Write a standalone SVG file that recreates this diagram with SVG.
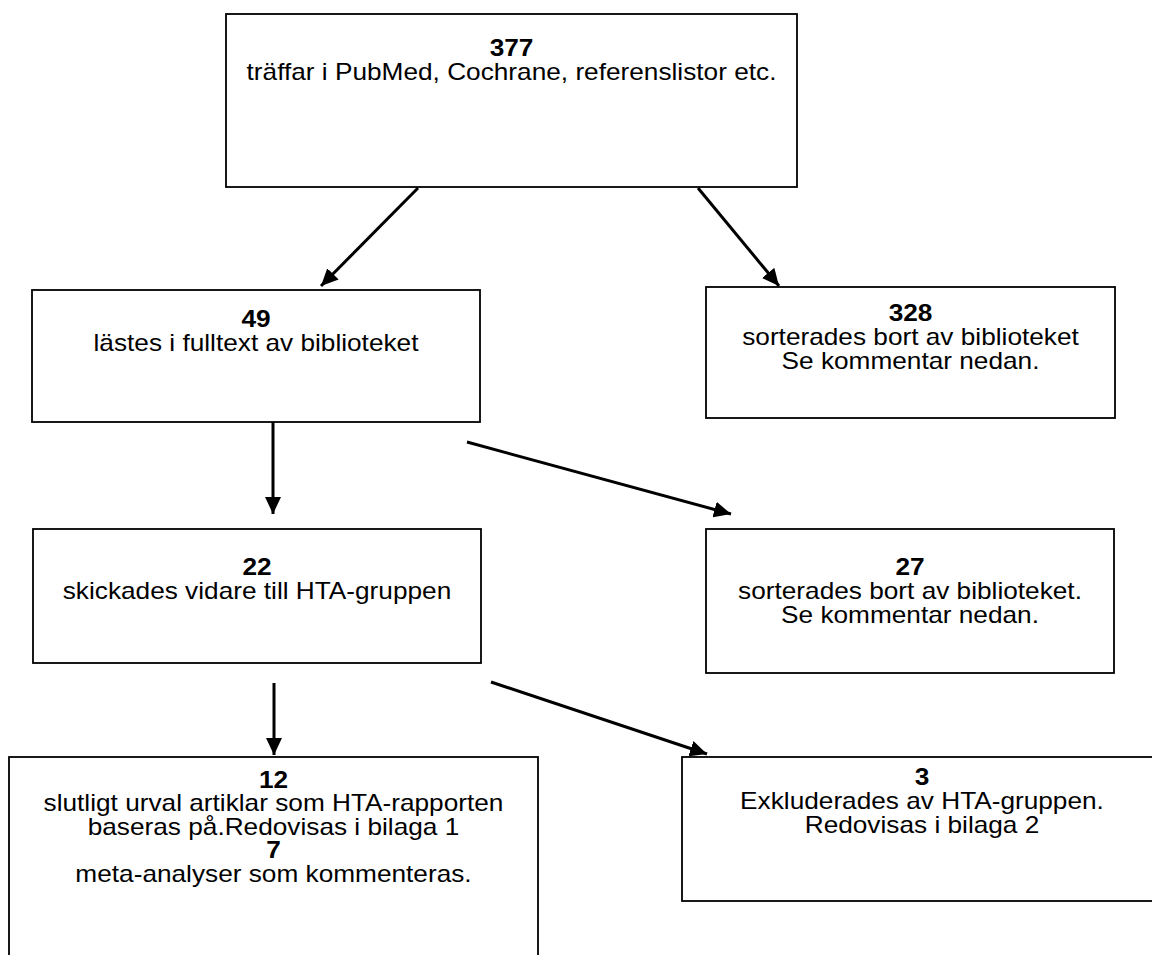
<svg xmlns="http://www.w3.org/2000/svg" width="1152" height="955" viewBox="0 0 1152 955">
<style>
.box{fill:#fff;stroke:#000;stroke-width:1.8}
text{font-family:"Liberation Sans",Arial,sans-serif;font-size:23px;fill:#000;text-anchor:middle}
.b{font-weight:bold}
.conn{stroke:#000;stroke-width:3;fill:none;marker-end:url(#ah)}
</style>
<defs>
<marker id="ah" markerUnits="userSpaceOnUse" markerWidth="17" markerHeight="16" refX="17" refY="8" orient="auto">
<path d="M0,0 L17,8 L0,16 z" fill="#000"/>
</marker>
</defs>
<rect width="1152" height="955" fill="#fff"/>
<g id="n377">
<rect class="box" x="226" y="14" width="571" height="173"/>
<g transform="translate(511.5 0) scale(1.14 1)">
<text class="b" x="0" y="56">377</text>
<text x="0" y="80">träffar i PubMed, Cochrane, referenslistor etc.</text>
</g>
</g>
<g id="n49">
<rect class="box" x="32" y="290" width="448" height="132"/>
<g transform="translate(256 0) scale(1.14 1)">
<text class="b" x="0" y="327">49</text>
<text x="0" y="351">lästes i fulltext av biblioteket</text>
</g>
</g>
<g id="n328">
<rect class="box" x="706" y="287" width="409" height="131"/>
<g transform="translate(910.5 0) scale(1.14 1)">
<text class="b" x="0" y="321">328</text>
<text x="0" y="345">sorterades bort av biblioteket</text>
<text x="0" y="369">Se kommentar nedan.</text>
</g>
</g>
<g id="n22">
<rect class="box" x="33" y="529" width="448" height="134"/>
<g transform="translate(257 0) scale(1.14 1)">
<text class="b" x="0" y="575">22</text>
<text x="0" y="599">skickades vidare till HTA-gruppen</text>
</g>
</g>
<g id="n27">
<rect class="box" x="706" y="529" width="408" height="144"/>
<g transform="translate(910 0) scale(1.14 1)">
<text class="b" x="0" y="575">27</text>
<text x="0" y="599">sorterades bort av biblioteket.</text>
<text x="0" y="623">Se kommentar nedan.</text>
</g>
</g>
<g id="n12">
<rect class="box" x="9" y="757" width="529" height="220"/>
<g transform="translate(273.5 0) scale(1.14 1)">
<text class="b" x="0" y="788">12</text>
<text x="0" y="811">slutligt urval artiklar som HTA-rapporten</text>
<text x="0" y="835">baseras på.Redovisas i bilaga 1</text>
<text class="b" x="0" y="858">7</text>
<text x="0" y="882">meta-analyser som kommenteras.</text>
</g>
</g>
<g id="n3">
<rect class="box" x="682" y="757" width="480" height="144"/>
<g transform="translate(922 0) scale(1.14 1)">
<text class="b" x="0" y="785">3</text>
<text x="0" y="809">Exkluderades av HTA-gruppen.</text>
<text x="0" y="833">Redovisas i bilaga 2</text>
</g>
</g>
<g id="connectors">
<line class="conn" x1="418" y1="188" x2="321" y2="286"/>
<line class="conn" x1="698" y1="188" x2="779" y2="286"/>
<line class="conn" x1="273" y1="422" x2="273" y2="514"/>
<line class="conn" x1="467" y1="442" x2="731" y2="514"/>
<line class="conn" x1="274" y1="683" x2="274" y2="755"/>
<line class="conn" x1="491" y1="682" x2="707" y2="754"/>
</g>
</svg>
